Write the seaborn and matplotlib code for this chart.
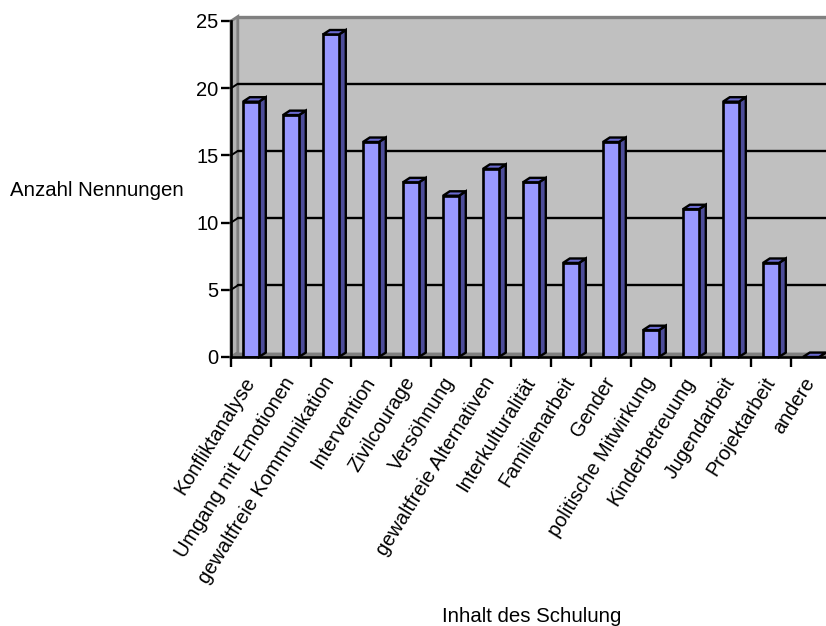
import matplotlib
matplotlib.use('Agg')
import matplotlib.pyplot as plt
from matplotlib.patches import Polygon
import seaborn as sns

categories = ['Konfliktanalyse', 'Umgang mit Emotionen', 'gewaltfreie Kommunikation',
              'Intervention', 'Zivilcourage', 'Versöhnung', 'gewaltfreie Alternativen',
              'Interkulturalität', 'Familienarbeit', 'Gender', 'politische Mitwirkung',
              'Kinderbetreuung', 'Jugendarbeit', 'Projektarbeit', 'andere']
values = [19, 18, 24, 16, 13, 12, 14, 13, 7, 16, 2, 11, 19, 7, 0]
y_ticks = [0, 5, 10, 15, 20, 25]

# depth of the fake 3D effect, in data units
dx = 0.17
dy = 0.33

sns.set_theme(style='white')
plt.rcParams['font.family'] = ['Liberation Sans', 'DejaVu Sans']

fig = plt.figure(figsize=(8.26, 6.26), dpi=100)
ax = fig.add_axes([231 / 826, 269 / 626, 600 / 826, 336 / 626])
ax.patch.set_alpha(0)

sns.barplot(x=categories, y=values, color='#9999ff', saturation=1, width=0.4,
            edgecolor='black', linewidth=1.9, zorder=5, ax=ax)
ax.set_xlim(-0.5, 14.5)
ax.set_ylim(0, 25)

# walls and floor
x0, x1 = -0.5, 14.5
top = y_ticks[-1]
ax.add_patch(Polygon([(x0 + dx, dy), (x1 + dx, dy), (x1 + dx, top + dy), (x0 + dx, top + dy)],
                     fc='#c0c0c0', ec='none', zorder=1, clip_on=False))
ax.add_patch(Polygon([(x0, 0), (x0 + dx, dy), (x0 + dx, top + dy), (x0, top)],
                     fc='#b4b4b4', ec='#808080', lw=2, zorder=1, clip_on=False))
ax.add_patch(Polygon([(x0, 0), (x1, 0), (x1 + dx, dy), (x0 + dx, dy)],
                     fc='#808080', ec='none', zorder=2, clip_on=False))
ax.plot([x0 + dx, x1 + dx], [top + dy, top + dy], color='#808080', lw=2.4, zorder=2, clip_on=False)
for t in y_ticks[1:-1]:
    ax.plot([x0 + dx, x1 + dx], [t + dy, t + dy], color='black', lw=1.7, zorder=3, clip_on=False)
    ax.plot([x0, x0 + dx], [t, t + dy], color='black', lw=1.4, zorder=3, clip_on=False)

# side and top faces of each bar
for bar in ax.patches[:len(values)]:
    l, w, h = bar.get_x(), bar.get_width(), bar.get_height()
    r = l + w
    ax.add_patch(Polygon([(r, 0), (r + dx, dy), (r + dx, h + dy), (r, h)],
                         fc='#4d4d99', ec='black', lw=1.7, zorder=4, clip_on=False))
    ax.add_patch(Polygon([(l, h), (r, h), (r + dx, h + dy), (l + dx, h + dy)],
                         fc='#6a6ad0', ec='black', lw=1.7, zorder=6, clip_on=False))

for s in ['top', 'right']:
    ax.spines[s].set_visible(False)
for s in ['left', 'bottom']:
    ax.spines[s].set_linewidth(1.9)
    ax.spines[s].set_color('black')
    ax.spines[s].set_zorder(7)

ax.set_yticks(y_ticks)
ax.set_xticks([i - 0.5 for i in range(len(categories))], minor=False)
ax.set_xticklabels([])
ax.tick_params(axis='both', which='major', length=7, width=1.7, color='black', left=True, bottom=True,
               labelsize=14.5, labelcolor='black', pad=2)

# labels sit between the tick marks
for i, name in enumerate(categories):
    ax.annotate(name, xy=(i, 0), xycoords='data', xytext=(-6, -12), textcoords='offset points',
                rotation=58, ha='right', va='top', rotation_mode='anchor', fontsize=14.4, color='black')

fig.text(184 / 826, 1 - 190 / 626, 'Anzahl Nennungen', ha='right', va='center', fontsize=14.7, color='black')
fig.text(532 / 826, 1 - 617 / 626, 'Inhalt des Schulung', ha='center', va='center', fontsize=14.7, color='black')

fig.savefig('out.png', dpi=100)
